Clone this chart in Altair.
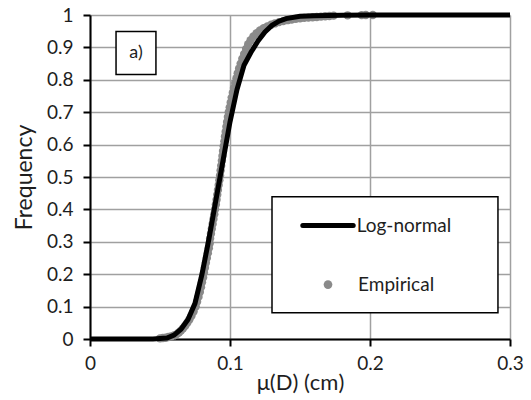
import altair as alt
import pandas as pd

# Fitted log-normal CDF, sampled along mu(D)
lognormal_x = [0.0, 0.045, 0.055, 0.060, 0.065, 0.070, 0.075, 0.080, 0.085, 0.090,
               0.095, 0.100, 0.105, 0.110, 0.115, 0.120, 0.125, 0.130, 0.135, 0.140,
               0.150, 0.160, 0.180, 0.200, 0.300]
lognormal_y = [0.0, 0.0, 0.003, 0.012, 0.03, 0.06, 0.11, 0.20, 0.31, 0.43,
               0.55, 0.67, 0.77, 0.845, 0.885, 0.92, 0.948, 0.968, 0.981, 0.989,
               0.996, 0.998, 0.9995, 1.0, 1.0]

# Empirical cumulative frequencies
empirical_x = [0.050, 0.052, 0.054, 0.056, 0.058, 0.060, 0.062, 0.0635, 0.065, 0.0665,
               0.068, 0.0695, 0.071, 0.0725, 0.074, 0.0755, 0.0765, 0.0775, 0.0785, 0.0793,
               0.0800, 0.0808, 0.0814, 0.0821, 0.0828, 0.0835, 0.0842, 0.0849, 0.0855, 0.0858,
               0.0864, 0.0870, 0.0876, 0.0882, 0.0888, 0.0893, 0.0899, 0.0904, 0.0909, 0.0914,
               0.0919, 0.0924, 0.0929, 0.0933, 0.0937, 0.0942, 0.0946, 0.0950, 0.0955, 0.0960,
               0.0964, 0.0969, 0.0974, 0.0979, 0.0985, 0.0991, 0.0998, 0.1005, 0.1012, 0.1020,
               0.1028, 0.1037, 0.1046, 0.1055, 0.1065, 0.1076, 0.1088, 0.1101, 0.1115, 0.1130,
               0.1147, 0.1167, 0.1190, 0.1214, 0.1240, 0.1267, 0.1294, 0.132, 0.135, 0.138,
               0.141, 0.144, 0.147, 0.150, 0.153, 0.156, 0.159, 0.162, 0.165, 0.168,
               0.171, 0.174, 0.184, 0.194, 0.197, 0.202]
empirical_y = [0.002, 0.003, 0.004, 0.006, 0.008, 0.011, 0.015, 0.020, 0.026, 0.033,
               0.041, 0.050, 0.060, 0.072, 0.085, 0.100, 0.115, 0.130, 0.145, 0.160,
               0.175, 0.190, 0.205, 0.220, 0.235, 0.250, 0.265, 0.280, 0.295, 0.310,
               0.325, 0.340, 0.355, 0.370, 0.385, 0.400, 0.415, 0.430, 0.445, 0.460,
               0.475, 0.490, 0.505, 0.520, 0.535, 0.550, 0.565, 0.580, 0.595, 0.610,
               0.625, 0.640, 0.655, 0.670, 0.685, 0.700, 0.715, 0.730, 0.745, 0.760,
               0.775, 0.790, 0.805, 0.820, 0.835, 0.850, 0.865, 0.880, 0.895, 0.910,
               0.922, 0.934, 0.944, 0.952, 0.959, 0.965, 0.970, 0.974, 0.978, 0.981,
               0.984, 0.986, 0.988, 0.990, 0.991, 0.992, 0.993, 0.994, 0.995, 0.996,
               0.997, 0.998, 0.999, 0.9995, 1.0, 1.0]

x_ticks = [0, 0.1, 0.2, 0.3]
y_ticks = [0, 0.1, 0.2, 0.3, 0.4, 0.5, 0.6, 0.7, 0.8, 0.9, 1.0]

FONT = "Lato"
GRAY = "#8a8a8a"
INK = "#1e1e1e"

line_df = pd.DataFrame({"x": lognormal_x, "y": lognormal_y})
emp_df = pd.DataFrame({"x": empirical_x, "y": empirical_y})

xscale = alt.Scale(domain=[0, 0.3], nice=False, zero=False)
yscale = alt.Scale(domain=[0, 1], nice=False, zero=False)

xaxis = alt.Axis(values=x_ticks, format="~g", title="μ(D) (cm)", grid=True,
                 gridColor="#a0a0a0", gridWidth=1.5, domainColor="#000",
                 domainWidth=2, tickColor="#000", tickWidth=2, tickSize=7,
                 labelFont=FONT, labelFontSize=19, labelColor=INK,
                 labelPadding=8, titleFont=FONT, titleFontSize=22,
                 titleFontWeight="normal", titleColor=INK, titlePadding=-1,
                 labelFlush=False, labelOverlap=False)
yaxis = alt.Axis(values=y_ticks, format="~g", title="Frequency", grid=True,
                 gridColor="#a0a0a0", gridWidth=1.5, domainColor="#000",
                 domainWidth=2, tickColor="#000", tickWidth=2, tickSize=7,
                 labelFont=FONT, labelFontSize=19, labelColor=INK,
                 labelPadding=10, titleFont=FONT, titleFontSize=23,
                 titleFontWeight="normal", titleColor=INK, titlePadding=10,
                 labelOverlap=False)

X = alt.X("x:Q", scale=xscale, axis=xaxis)
Y = alt.Y("y:Q", scale=yscale, axis=yaxis)

points = alt.Chart(emp_df).mark_circle(size=70, color=GRAY, opacity=1).encode(x=X, y=Y)

curve = alt.Chart(line_df).mark_line(color="#000", strokeWidth=5).encode(x=X, y=Y)

# Legend frame and entries, placed in data units
legend_box = alt.Chart(pd.DataFrame({"x": [0.130], "x2": [0.2914], "y": [0.081], "y2": [0.439]})).mark_rect(
    fill="white", stroke="#000", strokeWidth=1.5
).encode(x=X, x2="x2", y=Y, y2="y2")

legend_line = alt.Chart(pd.DataFrame({"x": [0.152], "x2": [0.188], "y": [0.35]})).mark_rule(
    color="#000", strokeWidth=5, strokeCap="round"
).encode(x=X, x2="x2", y=Y)

legend_dot = alt.Chart(pd.DataFrame({"x": [0.170], "y": [0.168]})).mark_circle(
    size=75, color=GRAY, opacity=1
).encode(x=X, y=Y)

legend_text = alt.Chart(pd.DataFrame({"x": [0.1905, 0.1915], "y": [0.35, 0.168],
                                      "t": ["Log-normal", "Empirical"]})).mark_text(
    align="left", baseline="middle", font=FONT, fontSize=19, color=INK
).encode(x=X, y=Y, text="t:N")

# Panel tag
tag_box = alt.Chart(pd.DataFrame({"x": [0.0186], "x2": [0.0471], "y": [0.816], "y2": [0.949]})).mark_rect(
    fill="white", stroke="#000", strokeWidth=1.5
).encode(x=X, x2="x2", y=Y, y2="y2")

tag_text = alt.Chart(pd.DataFrame({"x": [0.0329], "y": [0.882], "t": ["a)"]})).mark_text(
    align="center", baseline="middle", font=FONT, fontSize=18, color=INK
).encode(x=X, y=Y, text="t:N")

chart = alt.layer(
    points, curve, legend_box, legend_line, legend_dot, legend_text, tag_box, tag_text
).properties(
    width=420, height=324,
    autosize=alt.AutoSizeParams(type="none"),
    padding={"left": 90, "top": 15, "right": 21, "bottom": 61},
    background="white",
).configure_view(stroke=None)

chart.save("out.html", embed_options={"renderer": "svg", "actions": False})
